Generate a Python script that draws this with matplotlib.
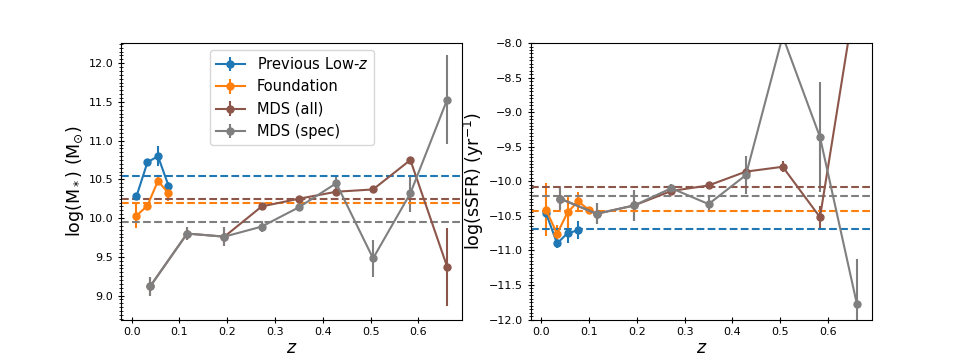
import numpy as np
import matplotlib
matplotlib.use('Agg')
import matplotlib.pyplot as plt
from matplotlib.ticker import AutoMinorLocator

# redshift bins
z_low = [0.010, 0.033, 0.055, 0.077]
z_found = [0.010, 0.033, 0.055, 0.077, 0.099]
z_mds = [0.039, 0.116, 0.194, 0.272, 0.350, 0.428, 0.505, 0.583, 0.660]

# host stellar mass
mass_low = [10.28, 10.72, 10.80, 10.42]
mass_low_err = [0.04, 0.04, 0.13, 0.05]
mass_found = [10.03, 10.16, 10.48, 10.32, np.nan]
mass_found_err = [0.16, 0.04, 0.05, 0.10, 0.0]
mass_all = [9.12, 9.80, 9.76, 10.15, 10.25, 10.34, 10.37, 10.75, 9.37]
mass_all_err = [0.12, 0.08, 0.12, 0.03, 0.03, 0.04, 0.03, 0.04, 0.50]
mass_spec = [9.12, 9.80, 9.76, 9.89, 10.14, 10.45, 9.48, 10.32, 11.53]
mass_spec_err = [0.12, 0.08, 0.12, 0.07, 0.04, 0.11, 0.24, 0.24, 0.57]

# specific star formation rate
ssfr_low = [-10.46, -10.90, -10.75, -10.71]
ssfr_low_err = [0.04, 0.07, 0.15, 0.13]
ssfr_found = [-10.41, -10.76, -10.45, -10.29, -10.41]
ssfr_found_err = [0.38, 0.13, 0.22, 0.14, 0.03]
ssfr_all = [-10.25, -10.47, -10.35, -10.14, -10.06, -9.86, -9.79, -10.52, -7.20]
ssfr_all_err = [0.16, 0.15, 0.22, 0.04, 0.04, 0.05, 0.08, 0.16, 0.30]
ssfr_spec = [-10.25, -10.47, -10.35, -10.10, -10.33, -9.91, -7.90, -9.36, -11.77]
ssfr_spec_err = [0.16, 0.15, 0.22, 0.06, 0.11, 0.28, 0.05, 0.80, 0.65]

# sample means (dashed lines)
labels = ['Previous Low-$z$', 'Foundation', 'MDS (all)', 'MDS (spec)']
colors = ['C0', 'C1', 'C5', 'C7']
mass_mean = [10.545, 10.193, 10.248, 9.943]
ssfr_mean = [-10.687, -10.426, -10.078, -10.213]


def draw_panel(ax, series, means):
    for (z, y, err), lab, c in zip(series, labels, colors):
        ax.errorbar(z, y, yerr=err, fmt='o-', color=c, label=lab, ms=5, lw=1.5)
    for m, c in zip(means, colors):
        ax.axhline(m, color=c, ls='--', lw=1.5)
    ax.set_xlim(-0.022, 0.692)
    ax.set_xticks([0.0, 0.1, 0.2, 0.3, 0.4, 0.5, 0.6])
    ax.yaxis.set_minor_locator(AutoMinorLocator(10))
    ax.tick_params(axis='both', which='major', direction='inout', length=4, labelsize=8)
    ax.tick_params(axis='y', which='minor', direction='inout', length=3)
    ax.set_xlabel('$z$', fontsize=12.5, labelpad=1)


fig, (ax1, ax2) = plt.subplots(1, 2, figsize=(9.69, 3.59), dpi=100)

draw_panel(ax1, [(z_low, mass_low, mass_low_err),
                 (z_found, mass_found, mass_found_err),
                 (z_mds, mass_all, mass_all_err),
                 (z_mds, mass_spec, mass_spec_err)], mass_mean)
ax1.set_ylim(8.69, 12.26)
ax1.set_ylabel(r'log(M$_*$) (M$_{\odot}$)', fontsize=12.5, labelpad=2)
ax1.legend(loc='upper center', fontsize=10.5)

draw_panel(ax2, [(z_low, ssfr_low, ssfr_low_err),
                 (z_found, ssfr_found, ssfr_found_err),
                 (z_mds, ssfr_all, ssfr_all_err),
                 (z_mds, ssfr_spec, ssfr_spec_err)], ssfr_mean)
ax2.set_ylim(-12, -8)
ax2.set_ylabel('log(sSFR) (yr$^{-1}$)', fontsize=12.5, labelpad=2)

plt.savefig('out.png', dpi=100)
